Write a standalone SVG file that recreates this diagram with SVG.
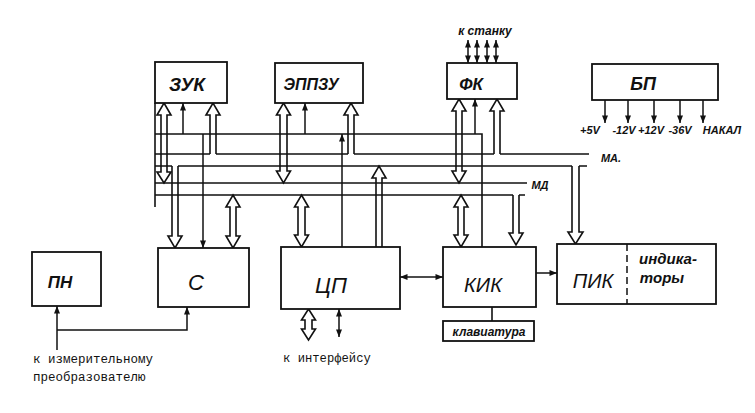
<svg xmlns="http://www.w3.org/2000/svg" width="755" height="413" viewBox="0 0 755 413">
<defs>
<marker id="ah" viewBox="0 0 10 8" refX="10" refY="4" markerWidth="8" markerHeight="6" markerUnits="userSpaceOnUse" orient="auto-start-reverse"><path d="M0,0 L10,4 L0,8 z" fill="#111"/></marker>
<style>
.box{fill:#fff;stroke:#111;stroke-width:1.8}
.wa{fill:#fff;stroke:#111;stroke-width:1.6;stroke-linejoin:miter}
.ln{fill:none;stroke:#111;stroke-width:1.6}
.th{fill:none;stroke:#111;stroke-width:1.5;marker-end:url(#ah)}
.bi{fill:none;stroke:#111;stroke-width:1.5;marker-start:url(#ah);marker-end:url(#ah)}
.lbl{font-family:"Liberation Sans",Arial,sans-serif;font-style:italic;fill:#111;text-anchor:middle}
.b{font-weight:bold}
.sm{font-family:"Liberation Sans",Arial,sans-serif;font-style:italic;font-weight:bold;fill:#111;text-anchor:middle}
.mono{font-family:"Liberation Mono","Courier New",monospace;fill:#111}
</style>
</defs>
<rect width="755" height="413" fill="#fff"/>

<g id="connectors">
<!-- wide arrows -->
<path class="wa" d="M164,103 L171,115 L167,115 L167,172 L171,172 L164,183 L157,172 L161,172 L161,115 L157,115 Z"/>
<path class="wa" d="M210,154 L210,115 L206,115 L213,103 L220,115 L216,115 L216,154"/>
<path class="wa" d="M283.5,103 L290.5,115 L287,115 L287,171 L290.5,171 L283.5,183 L276.5,171 L280,171 L280,115 L276.5,115 Z"/>
<path class="wa" d="M348,154 L348,115 L344,115 L351,103 L358,115 L354,115 L354,154"/>
<path class="wa" d="M459,99 L466,111 L462,111 L462,171 L466,171 L459,183 L452,171 L456,171 L456,111 L452,111 Z"/>
<path class="wa" d="M494,154 L494,111 L490,111 L497,99 L504,111 L500,111 L500,154"/>
<path class="wa" d="M172,166 L172,236 L168,236 L175,248 L182,236 L178,236 L178,166"/>
<path class="wa" d="M233,195 L240,207 L236,207 L236,236 L240,236 L233,248 L226,236 L230,236 L230,207 L226,207 Z"/>
<path class="wa" d="M301.5,195 L308.5,207 L305,207 L305,235 L308.5,235 L301.5,247 L294.5,235 L298,235 L298,207 L294.5,207 Z"/>
<path class="wa" d="M376,247 L376,178 L372,178 L379,166 L386,178 L382,178 L382,247"/>
<path class="wa" d="M461,195 L468,207 L464,207 L464,235 L468,235 L461,247 L454,235 L458,235 L458,207 L454,207 Z"/>
<path class="wa" d="M513,195 L513,233 L509,233 L516,245 L523,233 L519,233 L519,195"/>
<path class="wa" d="M572,166 L572,232 L568,232 L575.5,244 L583,232 L579,232 L579,166"/>
<path class="wa" d="M308.5,309 L315.5,320 L312,320 L312,329 L315.5,329 L308.5,340 L301.5,329 L305,329 L305,320 L301.5,320 Z"/>

<!-- buses -->
<path class="ln" d="M155,103 V207"/>
<path class="ln" d="M155,154 H210 M216,154 H348 M354,154 H494 M500,154 H589"/>
<path class="ln" d="M155,166 H172 M178,166 H572 M579,166 H587"/>
<path class="ln" d="M155,183 H527"/>
<path class="ln" d="M155,195 H513 M519,195 H525"/>
<path class="ln" d="M155,134 H482 V247"/>

<!-- thin arrows -->
<path class="th" d="M183,134 V103"/>
<path class="th" d="M305,134 V103"/>
<path class="th" d="M475,134 V99"/>
<path class="th" d="M203,134 V248"/>
<path class="th" d="M342,247 V134"/>
<path class="bi" d="M468,40 V63"/>
<path class="bi" d="M477,40 V63"/>
<path class="bi" d="M487,40 V63"/>
<path class="bi" d="M496,40 V63"/>
<path class="th" d="M605,100 V123"/>
<path class="th" d="M628,100 V123"/>
<path class="th" d="M654,100 V123"/>
<path class="th" d="M680,100 V123"/>
<path class="th" d="M703,100 V123"/>
<path class="bi" d="M339,309 V337"/>
<path class="bi" d="M400,277 H443"/>
<path class="th" d="M536,273 H557"/>
<path class="ln" d="M492,307 V321"/>
<path class="th" d="M57,350 V306"/>
<path class="th" d="M57,330 H187 V307"/>
</g>

<g id="zuk"><rect class="box" x="155" y="62" width="72" height="41"/><text class="lbl b" x="187" y="91" font-size="19">ЗУК</text></g>
<g id="eppzu"><rect class="box" x="275" y="63" width="88" height="40"/><text class="lbl b" x="311" y="90" font-size="16">ЭППЗУ</text></g>
<g id="fk"><rect class="box" x="447" y="63" width="70" height="36"/><text class="lbl b" x="471" y="90" font-size="17">ФК</text>
<text class="sm" x="485" y="35" font-size="12">к станку</text></g>
<g id="bp"><rect class="box" x="592" y="64" width="126" height="36"/><text class="lbl b" x="643" y="90" font-size="18">БП</text>
<text class="sm" x="590" y="134" font-size="11">+5V</text>
<text class="sm" x="624" y="134" font-size="11">-12V</text>
<text class="sm" x="651" y="134" font-size="11">+12V</text>
<text class="sm" x="680" y="134" font-size="11">-36V</text>
<text class="sm" x="722" y="134" font-size="11">НАКАЛ</text></g>
<g id="bus-labels"><text class="sm" x="611" y="162" font-size="11" font-style="normal">МА.</text>
<text class="sm" x="540" y="189" font-size="11" font-style="normal">МД</text></g>
<g id="pn"><rect class="box" x="32" y="252" width="69" height="54"/><text class="lbl b" x="60" y="288" font-size="17">ПН</text></g>
<g id="s"><rect class="box" x="158" y="248" width="91" height="59"/><text class="lbl" x="196" y="290" font-size="22">С</text></g>
<g id="cp"><rect class="box" x="281" y="247" width="119" height="62"/><text class="lbl" x="331" y="293" font-size="22">ЦП</text></g>
<g id="kik"><rect class="box" x="443" y="247" width="93" height="60"/><text class="lbl" x="483" y="292" font-size="20">КИК</text></g>
<g id="klav"><rect class="box" x="443" y="321" width="91" height="20"/><text class="sm" x="489" y="336" font-size="12">клавиатура</text></g>
<g id="pik"><rect class="box" x="557" y="244" width="159" height="60"/>
<line x1="627" y1="244" x2="627" y2="304" stroke="#111" stroke-width="1.5" stroke-dasharray="7,4"/>
<text class="lbl" x="593" y="288" font-size="20">ПИК</text>
<text class="lbl" x="668" y="264" font-size="15" font-weight="bold">индика-</text>
<text class="lbl" x="662" y="283" font-size="15" font-weight="bold">торы</text></g>
<g id="notes"><text class="mono" x="33" y="363" font-size="12.5">к измерительному</text>
<text class="mono" x="33" y="381" font-size="12.5">преобразователю</text>
<text class="mono" x="283" y="362" font-size="12.2">к интерфейсу</text></g>
</svg>
